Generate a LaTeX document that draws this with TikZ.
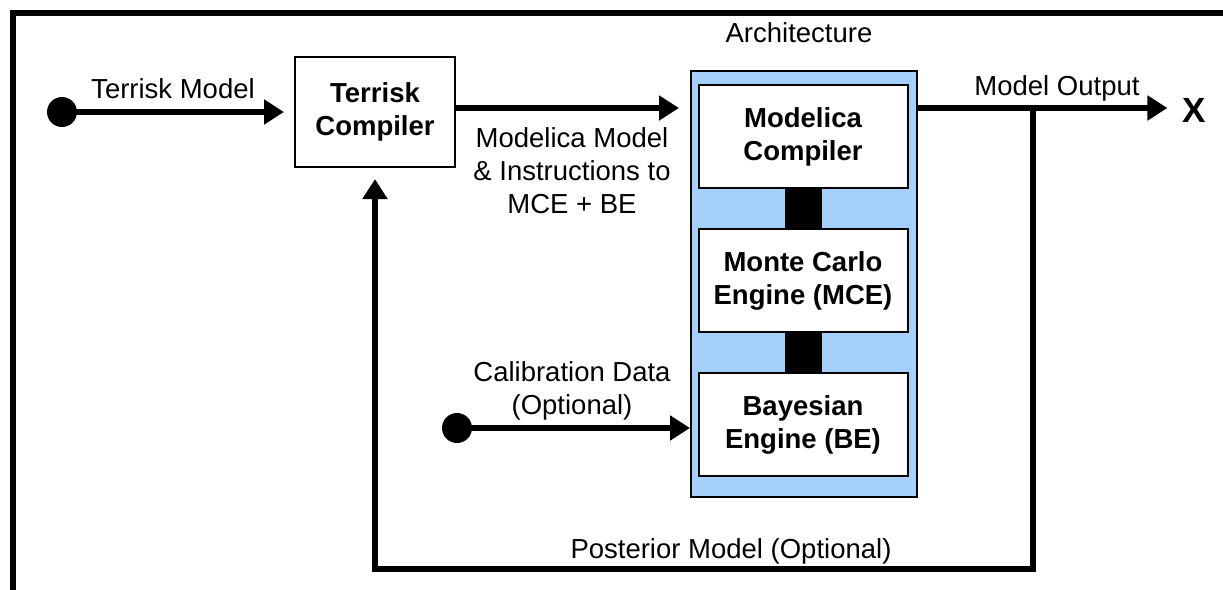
\documentclass[tikz,border=0pt]{standalone}
\usepackage{fontspec}
\setmainfont{Liberation Sans}
\usetikzlibrary{arrows.meta}
\definecolor{archblue}{HTML}{A4D0FB}
\begin{document}
\begin{tikzpicture}[x=0.5pt,y=-0.5pt,
  every node/.style={font=\fontsize{13.75pt}{16.5pt}\selectfont, inner sep=0pt},
  box/.style={draw=black, line width=1pt, fill=white, minimum width=104.5pt, minimum height=51.5pt, align=center, font=\fontsize{13.75pt}{16.5pt}\selectfont\bfseries},
  archbox/.style={draw=black, line width=1pt, fill=archblue, minimum width=113pt, minimum height=213pt},
  arr/.style={line width=3pt, -{Triangle[length=10pt,width=12pt]}},
  bar/.style={line width=18.5pt},
  frame/.style={line width=3pt},
  dotnode/.style={circle, fill=black, minimum size=15pt, inner sep=0pt},
  lbl/.style={align=center}]
\useasboundingbox (0,0) rectangle (1223,590);
\draw[frame] (12.5,590) -- (12.5,13) -- (1223,13);

% boxes
\node[box, minimum width=80pt, minimum height=55pt] (tc) at (375,112) {Terrisk\\Compiler};
\node[archbox] (arch) at (804,284) {};
\node[box] (mc) at (803,136.5) {Modelica\\Compiler};
\node[box] (mce) at (803,280.5) {Monte Carlo\\Engine (MCE)};
\node[box] (be) at (803,424.5) {Bayesian\\Engine (BE)};
\draw[bar] (mc.south) -- (mce.north);
\draw[bar] (mce.south) -- (be.north);
\node (arl) at (799,33) {Architecture};

% input
\node[dotnode] (d1) at (62,112) {};
\draw[arr, shorten >=5pt] (d1.center) -- (tc.west);
\node (tml) at (173,89) {Terrisk Model};

% compiler -> architecture
\draw[arr, shorten >=5.5pt] ([yshift=2pt]tc.east) -- ([yshift=2pt]tc.east -| arch.west);
\node[lbl] (mml) at (572,171) {Modelica Model\\\& Instructions to\\MCE + BE};

% output
\coordinate (oy) at (0,108);
\node[font=\fontsize{17.5pt}{20pt}\selectfont\bfseries] (x) at (1194,110) {X};
\draw[arr, shorten >=7.25pt] (arch.east |- oy) -- (x.west |- oy);
\node (mol) at (1057,88) {Model Output};

% feedback
\coordinate (j) at (1033,108);
\coordinate (fb) at (0,569);
\draw[arr, shorten >=5.5pt] (j) |- (fb -| tc.south) -- (tc.south);
\node (pml) at (731,551) {Posterior Model (Optional)};

% calibration
\node[dotnode] (d2) at (457,428) {};
\draw[arr] (d2.center) -- (d2 -| arch.west);
\node[lbl] (cdl) at (572,391) {Calibration Data\\(Optional)};
\end{tikzpicture}
\end{document}
